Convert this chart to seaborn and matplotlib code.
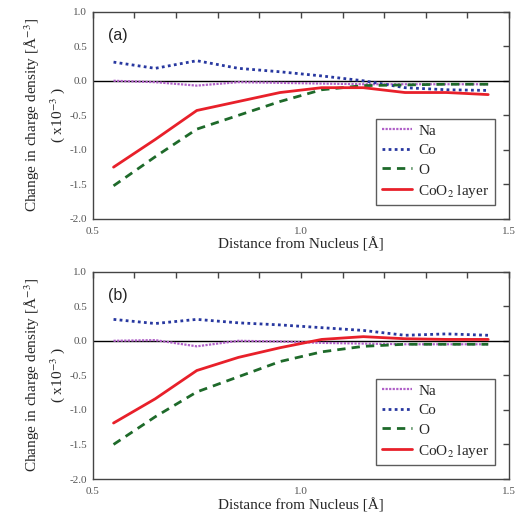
import numpy as np
import pandas as pd
import matplotlib as mpl
mpl.use('Agg')
import matplotlib.pyplot as plt
from matplotlib.ticker import MultipleLocator, FuncFormatter
import seaborn as sns

# distance from nucleus (Angstrom)
dist = [0.55, 0.65, 0.75, 0.85, 0.95, 1.05, 1.15, 1.25, 1.35, 1.45]

# panel (a): change in charge density (x1e-3 A^-3)
na_a = [0.00, -0.02, -0.07, -0.02, -0.03, -0.04, -0.05, -0.05, -0.05, -0.05]
co_a = [0.27, 0.18, 0.29, 0.18, 0.13, 0.07, 0.00, -0.10, -0.13, -0.14]
o_a = [-1.52, -1.10, -0.70, -0.50, -0.30, -0.13, -0.07, -0.06, -0.05, -0.05]
coo2_a = [-1.25, -0.85, -0.43, -0.30, -0.17, -0.10, -0.10, -0.17, -0.17, -0.20]

# panel (b)
na_b = [0.00, 0.01, -0.08, 0.00, -0.01, -0.03, -0.04, -0.05, -0.05, -0.05]
co_b = [0.31, 0.25, 0.31, 0.26, 0.23, 0.19, 0.15, 0.08, 0.10, 0.08]
o_b = [-1.50, -1.10, -0.74, -0.52, -0.30, -0.16, -0.08, -0.05, -0.05, -0.05]
coo2_b = [-1.19, -0.84, -0.43, -0.24, -0.10, 0.02, 0.06, 0.03, 0.02, 0.02]

series_names = ['Na', 'Co', 'O', 'CoO$_2$ layer']
series_colors = ['#b060c8', '#2838a0', '#1e6a2a', '#e8202a']
series_styles = [(0, (1, 0.6)), (0, (1, 1.2)), (0, (3, 2.2)), '-']
series_widths = [1.6, 2.0, 2.0, 2.0]

sns.set_theme(style='white')
plt.rcParams['font.family'] = ['Liberation Serif', 'DejaVu Serif']
plt.rcParams['mathtext.fontset'] = 'stix'


def draw_panel(ax, values, tag):
    ax.axhline(0.0, color='black', lw=1.0, zorder=1)
    for vals, name, col, ls, lw in zip(values, series_names, series_colors,
                                       series_styles, series_widths):
        sns.lineplot(x=dist, y=vals, ax=ax, color=col, linestyle=ls,
                     linewidth=lw, label=name, zorder=3)

    ax.set_xlim(0.5, 1.5)
    ax.set_ylim(-2.0, 1.0)
    ax.xaxis.set_major_locator(MultipleLocator(0.1))
    ax.yaxis.set_major_locator(MultipleLocator(0.5))
    ax.xaxis.set_major_formatter(FuncFormatter(
        lambda v, p: '{:.1f}'.format(v) if abs(v * 2 - round(v * 2)) < 1e-6
        else ''))
    ax.yaxis.set_major_formatter(FuncFormatter(lambda v, p: '{:.1f}'.format(v)))
    ax.tick_params(direction='in', length=4, width=1, top=True, right=True,
                   labelsize=8, labelcolor='#555555', color='#444444', pad=4)
    ax.tick_params(axis='x', pad=6)
    for sp in ax.spines.values():
        sp.set_color('#444444')
        sp.set_linewidth(1.0)

    ax.set_xlabel('Distance from Nucleus [Å]', fontsize=11, labelpad=1)
    ax.set_ylabel('Change in charge density [Å$^{-3}$]\n( x10$^{-3}$ )',
                  fontsize=11, linespacing=1.4, labelpad=2)
    ax.text(0.061, 0.884, tag, transform=ax.transAxes, fontsize=11.5,
            family='Liberation Sans', ha='center', va='center')

    leg = ax.legend(loc='lower right', bbox_to_anchor=(0.966, 0.068),
                    fontsize=11, frameon=True, fancybox=False,
                    handlelength=2.0, handletextpad=0.4, borderpad=0.35,
                    labelspacing=0.38, borderaxespad=0)
    leg.get_frame().set_edgecolor('#333333')
    leg.get_frame().set_linewidth(1.0)


fig = plt.figure(figsize=(5.16, 5.21), dpi=100)
ax_a = fig.add_axes([0.1797, 0.5797, 0.8068, 0.3979])
ax_b = fig.add_axes([0.1797, 0.0806, 0.8068, 0.3979])

draw_panel(ax_a, [na_a, co_a, o_a, coo2_a], '(a)')
draw_panel(ax_b, [na_b, co_b, o_b, coo2_b], '(b)')

fig.savefig('out.png', dpi=100)
plt.close(fig)
